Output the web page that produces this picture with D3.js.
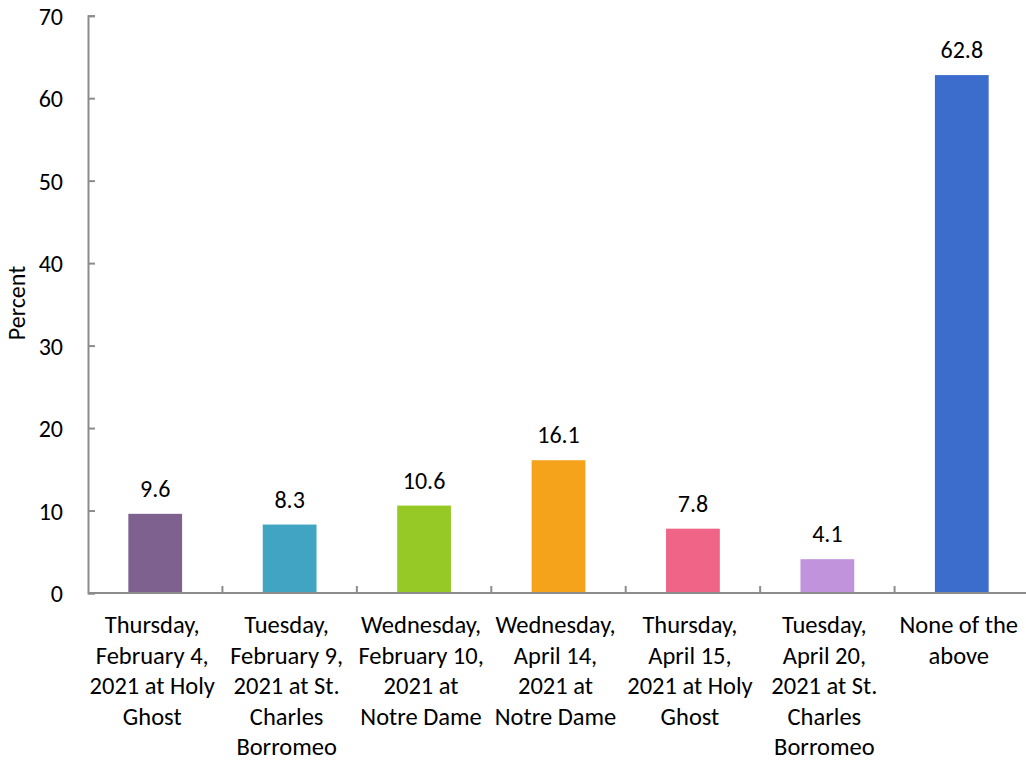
<!DOCTYPE html>
<html><head><meta charset="utf-8">
<script src="https://cdn.jsdelivr.net/npm/d3@7"></script>
<style>
html,body{margin:0;padding:0;background:#fff;}
text{font-family:Carlito,Calibri,"Open Sans",sans-serif;fill:#000;}
</style></head>
<body><svg id="c" width="1026" height="762"></svg>
<script>
const categories = [
  ["Thursday,","February 4,","2021 at Holy","Ghost"],
  ["Tuesday,","February 9,","2021 at St.","Charles","Borromeo"],
  ["Wednesday,","February 10,","2021 at","Notre Dame"],
  ["Wednesday,","April 14,","2021 at","Notre Dame"],
  ["Thursday,","April 15,","2021 at Holy","Ghost"],
  ["Tuesday,","April 20,","2021 at St.","Charles","Borromeo"],
  ["None of the","above"]
];
const values = [9.6, 8.3, 10.6, 16.1, 7.8, 4.1, 62.8];
const colors = ["#7f618f","#40a4c2","#96c826","#f5a31b","#ef6487","#c193dd","#3d6dcc"];
const yTicks = [0,10,20,30,40,50,60,70];
const yLabel = "Percent";

const FS = "24px";
const svg = d3.select("#c");
const x0 = 88, x1 = 1029, yb = 593, yt = 15.7;
const x = d3.scaleBand().domain(d3.range(values.length)).range([x0, x1]).paddingInner(0.6).paddingOuter(0.3);
const xb = d3.scaleBand().domain(d3.range(values.length)).range([x0, x1]);
const y = d3.scaleLinear().domain([0,70]).range([yb, yt]);

const axisColor = "#8c8c8c";
// bars
svg.selectAll("rect.bar").data(values).join("rect")
  .attr("class","bar")
  .attr("x",(d,i)=>x(i)).attr("width",x.bandwidth())
  .attr("y",d=>y(d)).attr("height",d=>yb-y(d))
  .attr("fill",(d,i)=>colors[i]);

// y axis
const ya = svg.append("g").attr("transform",`translate(${x0},0)`)
  .call(d3.axisLeft(y).tickValues(yTicks).tickSize(-7).tickPadding(25).tickFormat(d3.format("d")));
ya.attr("font-family",null).attr("font-size",null);
ya.select(".domain").attr("stroke",axisColor).attr("stroke-width",2);
ya.selectAll(".tick line").attr("stroke",axisColor).attr("stroke-width",2);
ya.selectAll(".tick text").style("font-size",FS).attr("fill","#000").attr("dy","0.36em");

// x axis
const boundaries = d3.range(values.length+1).map(i=>x0 + i*xb.step());
svg.append("line").attr("x1",x0).attr("x2",1026).attr("y1",yb).attr("y2",yb)
  .attr("stroke",axisColor).attr("stroke-width",2);
svg.selectAll("line.xt").data(boundaries.slice(1,-1)).join("line")
  .attr("class","xt").attr("x1",d=>d).attr("x2",d=>d).attr("y1",yb).attr("y2",yb-7)
  .attr("stroke",axisColor).attr("stroke-width",2);

// category labels
const cl = svg.selectAll("text.cat").data(categories).join("text")
  .attr("class","cat").attr("text-anchor","middle").style("font-size","24.5px")
  .attr("transform",(d,i)=>`translate(${x(i)+x.bandwidth()/2-3},${yb+40})`);
cl.selectAll("tspan").data(d=>d).join("tspan")
  .attr("x",0).attr("y",(d,j)=>j*30.5).text(d=>d);

// value labels
svg.selectAll("text.val").data(values).join("text")
  .attr("class","val").attr("text-anchor","middle").style("font-size",FS)
  .attr("x",(d,i)=>x(i)+x.bandwidth()/2).attr("y",d=>y(d)-17)
  .text(d=>d.toFixed(1));

// y label
svg.append("text").attr("text-anchor","middle").style("font-size","24px")
  .attr("transform",`translate(25,303) rotate(-90)`).text(yLabel);
</script></body></html>
